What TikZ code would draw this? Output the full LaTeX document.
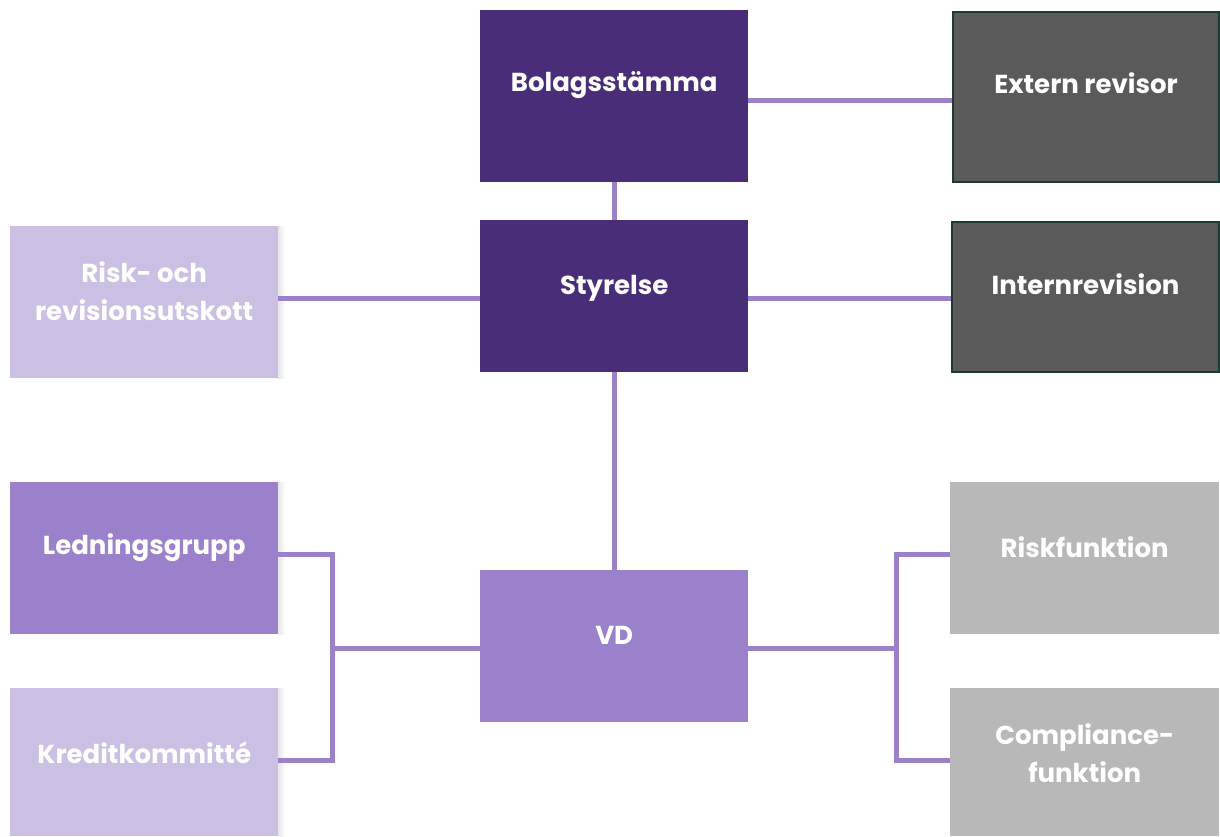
\documentclass[tikz,border=0pt]{standalone}
\usepackage{fontspec}
\setmainfont{Poppins}[BoldFont={* Bold}]
\definecolor{darkp}{HTML}{4A2D78}
\definecolor{midp}{HTML}{9B81CB}
\definecolor{lightp}{HTML}{CBBFE4}
\definecolor{darkg}{HTML}{5A5A5A}
\definecolor{lightg}{HTML}{B8B8B8}
\definecolor{edgeg}{HTML}{1A3A33}
\definecolor{linec}{HTML}{9B80CA}
\begin{document}
\begin{tikzpicture}[x=1pt,y=-1pt,
  box/.style={minimum width=268pt,minimum height=152pt,inner sep=0pt,anchor=north west},
  lab/.style={text=white,font=\bfseries\fontsize{26}{38}\selectfont,align=center,yshift=11pt,inner sep=0pt},
  conn/.style={draw=linec,line width=5pt}]
\useasboundingbox (0,0) rectangle (1220,836);
\fill[white] (0,0) rectangle (1220,836);
% soft shadows right of the left column
\foreach \y/\h in {226/152,482/152,688/148}{
  \shade[left color=black!10,right color=white] (278,\y) rectangle (285,\y+\h);
}
\node[box,fill=darkp,minimum height=172pt,label={[lab]center:Bolagsstämma}] (bol) at (480,10) {};
\node[box,fill=darkg,draw=edgeg,line width=2pt,minimum width=266pt,minimum height=170pt,label={[lab,yshift=3pt]center:Extern revisor}] (ext) at (952,11) {};
\node[box,fill=darkp,label={[lab,yshift=-3pt]center:Styrelse}] (sty) at (480,220) {};
\node[box,fill=darkg,draw=edgeg,line width=2pt,minimum width=267pt,minimum height=150pt,label={[lab,yshift=2pt]center:Internrevision}] (int) at (951,221) {};
\node[box,fill=lightp,label={[lab]center:{Risk- och\\revisionsutskott}}] (risk) at (10,226) {};
\node[box,fill=midp,label={[lab]center:Ledningsgrupp}] (led) at (10,482) {};
\node[box,fill=lightp,minimum height=148pt,label={[lab,yshift=-2pt]center:Kreditkommitté}] (kred) at (10,688) {};
\node[box,fill=midp,label={[lab]center:VD}] (vd) at (480,570) {};
\node[box,fill=lightg,minimum width=269pt,label={[lab]center:Riskfunktion}] (rf) at (950,482) {};
\node[box,fill=lightg,minimum width=269pt,minimum height=148pt,label={[lab,yshift=-2pt]center:{Compliance-\\funktion}}] (comp) at (950,688) {};
\coordinate (lj) at (332,648);
\coordinate (rj) at (896,648);
\draw[conn] (bol.east |- 0,100) -- (ext.west |- 0,100);
\draw[conn] (bol.south) -- (sty.north);
\draw[conn] (sty.west |- 0,298) -- (risk.east |- 0,298);
\draw[conn] (sty.east |- 0,298) -- (int.west |- 0,298);
\draw[conn] (sty.south) -- (vd.north);
\draw[conn,line join=miter] (led.east |- 0,554) -| (lj) |- (kred.east |- 0,760);
\draw[conn] (vd.west |- lj) -- (lj);
\draw[conn,line join=miter] (rf.west |- 0,554) -| (rj) |- (comp.west |- 0,760);
\draw[conn] (vd.east |- rj) -- (rj);
\end{tikzpicture}
\end{document}
